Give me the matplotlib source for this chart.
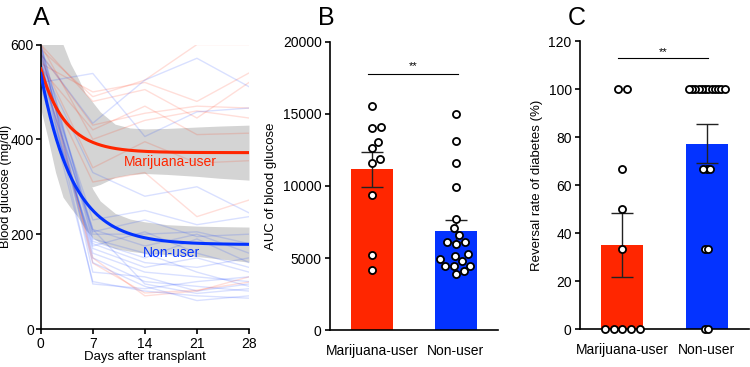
import numpy as np
import matplotlib
matplotlib.use("Agg")
import matplotlib.pyplot as plt

plt.rcParams["font.family"] = ["Liberation Sans", "DejaVu Sans"]
plt.rcParams["font.size"] = 10

## Colours
RED = "#ff2600"
BLUE = "#0433ff"
GREY = "#d4d4d4"

## Panel A - blood glucose per mouse (mg/dl) at days 0, 7, 14, 21, 28
days = [0, 7, 14, 21, 28]
user_glucose = [
    [590, 490, 525, 600, 600],
    [560, 500, 520, 480, 540],
    [600, 480, 505, 445, 520],
    [580, 430, 455, 470, 466],
    [550, 420, 470, 410, 413],
    [600, 400, 440, 460, 445],
    [570, 340, 395, 350, 355],
    [540, 310, 330, 237, 272],
    [590, 139, 76, 82, 99],
    [560, 150, 70, 80, 110],
]
nonuser_glucose = [
    [520, 539, 406, 458, 466],
    [580, 434, 525, 571, 511],
    [560, 330, 280, 300, 245],
    [540, 210, 175, 200, 160],
    [600, 200, 200, 205, 180],
    [580, 185, 150, 190, 140],
    [520, 170, 130, 150, 120],
    [560, 160, 120, 110, 100],
    [590, 150, 100, 90, 80],
    [550, 140, 90, 60, 70],
    [600, 120, 110, 80, 95],
    [530, 100, 80, 70, 65],
    [570, 95, 85, 100, 110],
    [510, 180, 140, 130, 150],
    [600, 190, 160, 120, 90],
    [580, 210, 95, 75, 85],
    [560, 230, 250, 220, 237],
    [545, 205, 230, 195, 200],
    [530, 175, 205, 160, 130],
]

# one-phase decay fits: (Y0, plateau, K)
user_fit = (549, 372, 0.30)
nonuser_fit = (539, 178, 0.23)

# confidence bands of the fits, read at these days
band_days = [0, 1, 2, 3, 4, 5, 6, 7, 8, 10, 12, 14, 17, 21, 24, 28]
user_band_hi = [600, 600, 600, 600, 560, 530, 497, 478, 458, 432, 424, 422, 423, 426, 428, 430]
user_band_lo = [480, 440, 400, 370, 340, 315, 302, 300, 305, 320, 326, 328, 326, 322, 318, 314]
nonuser_band_hi = [600, 600, 560, 500, 440, 385, 335, 295, 270, 244, 232, 226, 220, 217, 216, 215]
nonuser_band_lo = [465, 400, 330, 278, 256, 236, 210, 192, 182, 170, 164, 160, 157, 153, 148, 141]

## Panel B - AUC of blood glucose
groups = ["Marijuana-user", "Non-user"]
user_auc = [15530, 14005, 14120, 13080, 12616, 11850, 11574, 9375, 5208, 4167]
nonuser_auc = [15000, 13100, 11600, 9950, 7700, 7050, 6570, 6110, 6000, 6090,
               5280, 5120, 4910, 4820, 4470, 4470, 4470, 4120, 3870]

## Panel C - reversal rate of diabetes (%)
user_rev = [100, 100, 66.7, 50, 33.3, 0, 0, 0, 0, 0]
nonuser_rev = [100] * 12 + [66.7] * 3 + [33.3] * 2 + [0] * 2


def decay(t, fit):
    y0, plateau, k = fit
    return plateau + (y0 - plateau) * np.exp(-k * t)


def swarm(ax, x0, vals, d_px=8.7, max_px=18):
    # beeswarm offsets in pixels, then back to data units
    vals = np.asarray(vals, float)
    pts = ax.transData.transform(np.column_stack([np.full(len(vals), x0), vals]))
    ys = pts[:, 1]
    offs = np.zeros(len(vals))
    placed = []
    for i in np.argsort(ys, kind="stable"):
        y = ys[i]
        cands = [0.0]
        for xo, yp in placed:
            dy = y - yp
            if abs(dy) < d_px:
                dx = np.sqrt(d_px ** 2 - dy ** 2)
                cands += [xo + dx, xo - dx]
        cands.sort(key=lambda c: (abs(c), -c))
        for c in cands:
            if all((c - xo) ** 2 + (y - yp) ** 2 >= d_px ** 2 - 1e-6 for xo, yp in placed):
                offs[i] = c
                break
        placed.append((offs[i], y))
    for v in np.unique(vals):
        idx = vals == v
        if idx.sum() > 1:
            offs[idx] -= offs[idx].mean()
    m = np.abs(offs).max()
    if m > max_px:
        offs *= max_px / m
    px_per_unit = ax.transData.transform((1, 0))[0] - ax.transData.transform((0, 0))[0]
    return x0 + offs / px_per_unit


def style(ax):
    for s in ["top", "right"]:
        ax.spines[s].set_visible(False)
    for s in ["left", "bottom"]:
        ax.spines[s].set_linewidth(1.2)
    ax.tick_params(width=1.2, length=3.5, labelsize=10, direction="out", pad=2.5)


fig = plt.figure(figsize=(7.5, 3.67), dpi=100)

## ---- A
axA = fig.add_axes([0.0543, 0.1035, 0.2777, 0.7752])
axA.fill_between(band_days, user_band_lo, user_band_hi, color=GREY, lw=0, zorder=1)
axA.fill_between(band_days, nonuser_band_lo, nonuser_band_hi, color=GREY, lw=0, zorder=1)
for row in user_glucose:
    axA.plot(days, row, color=RED, alpha=0.15, lw=1, zorder=2)
for row in nonuser_glucose:
    axA.plot(days, row, color=BLUE, alpha=0.15, lw=1, zorder=2)
t = np.linspace(0, 28, 200)
axA.plot(t, decay(t, user_fit), color=RED, lw=2.2, zorder=3)
axA.plot(t, decay(t, nonuser_fit), color=BLUE, lw=2.2, zorder=3)
axA.text(17.4, 352, "Marijuana-user", color=RED, ha="center", va="center", fontsize=10, zorder=4)
axA.text(17.6, 160, "Non-user", color=BLUE, ha="center", va="center", fontsize=10, zorder=4)
axA.set_xlim(0, 28)
axA.set_ylim(0, 600)
axA.set_xticks(days)
axA.set_yticks([0, 200, 400, 600])
style(axA)
axA.tick_params(axis="y", pad=1.5)
axA.set_xlabel("Days after transplant", fontsize=9.5, labelpad=0)
axA.set_ylabel("Blood glucose (mg/dl)", fontsize=9.2)
axA.yaxis.set_label_coords(-0.137, 0.5)


def bar_panel(ax, data, ylim, yticks, ylabel, sig_y, star_y):
    ax.set_xlim(-0.5, 1.5)
    ax.set_ylim(*ylim)
    means = [np.mean(d) for d in data]
    sems = [np.std(d, ddof=1) / np.sqrt(len(d)) for d in data]
    ax.bar([0, 1], means, width=0.5, color=[RED, BLUE], zorder=1)
    ax.errorbar([0, 1], means, yerr=sems, fmt="none", ecolor="#222222",
                elinewidth=1, capsize=8, capthick=1, zorder=2)
    for i, d in enumerate(data):
        xs = swarm(ax, i, d)
        ax.scatter(xs, d, s=26, facecolor="white", edgecolor="black",
                   linewidths=1.3, zorder=3, clip_on=False)
    ax.plot([-0.05, 1.02], [sig_y, sig_y], color="black", lw=0.8)
    ax.text(0.49, star_y, "**", ha="center", va="baseline", fontsize=8)
    ax.set_yticks(yticks)
    ax.set_xticks([0, 1])
    ax.set_xticklabels(groups, fontsize=10)
    ax.set_ylabel(ylabel, fontsize=9.5, labelpad=4)
    style(ax)
    ax.tick_params(axis="x", length=0, pad=10)


## ---- B
axB = fig.add_axes([0.44, 0.1008, 0.224, 0.7848])
bar_panel(axB, [user_auc, nonuser_auc], (0, 20000), range(0, 20001, 5000),
          "AUC of blood glucose", 17800, 18150)

## ---- C
axC = fig.add_axes([0.7733, 0.1035, 0.2254, 0.7845])
bar_panel(axC, [user_rev, nonuser_rev], (0, 120), range(0, 121, 20),
          "Reversal rate of diabetes (%)", 113, 114.3)

for x, lab in [(0.044, "A"), (0.424, "B"), (0.757, "C")]:
    fig.text(x, 0.932, lab, fontsize=18, va="baseline")

fig.savefig("out.png", dpi=100)
